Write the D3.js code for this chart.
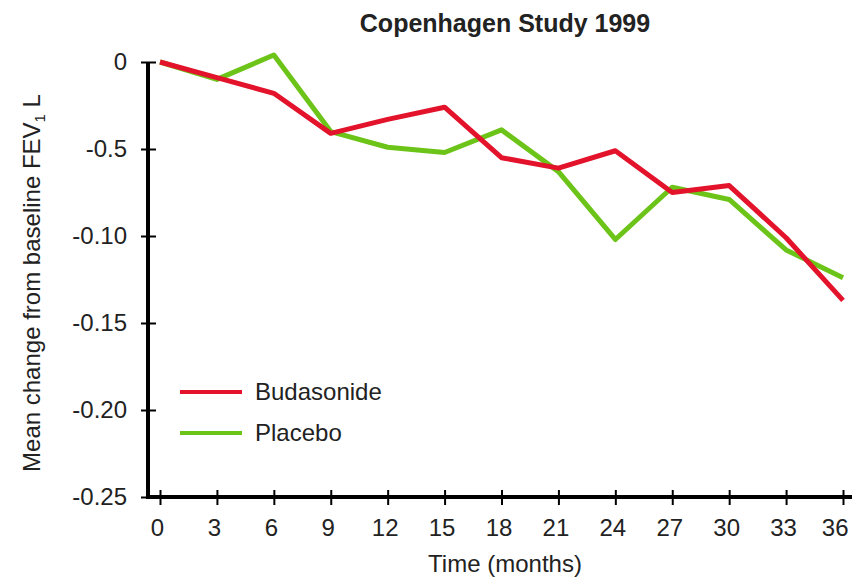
<!DOCTYPE html>
<html>
<head>
<meta charset="utf-8">
<script src="https://cdn.jsdelivr.net/npm/d3@7"></script>
<style>
  body { margin: 0; background: #fff; }
  text { font-family: "Liberation Sans", Arial, sans-serif; fill: #222; }
</style>
</head>
<body>
<div class="chart"></div>
<script>
// months on the x axis
var months = [0, 3, 6, 9, 12, 15, 18, 21, 24, 27, 30, 33, 36];

// mean change from baseline FEV1 (L)
var budasonide = [0, -0.009, -0.018, -0.041, -0.033, -0.026, -0.055, -0.061, -0.051, -0.075, -0.071, -0.101, -0.137];
var placebo    = [0, -0.010, 0.004, -0.040, -0.049, -0.052, -0.039, -0.063, -0.102, -0.072, -0.079, -0.108, -0.124];

// y ticks and the labels as printed on the original
var yTicks = [0, -0.05, -0.10, -0.15, -0.20, -0.25];
var yTickLabels = ["0", "-0.5", "-0.10", "-0.15", "-0.20", "-0.25"];

var seriesNames = ["Budasonide", "Placebo"];
var seriesColors = ["#e3132c", "#6cc419"];

var svgWidth = 852;
var svgHeight = 580;

var svg = d3.select(".chart")
  .append("svg")
  .attr("width", svgWidth)
  .attr("height", svgHeight);

// scales
var xScale = d3.scaleLinear()
  .domain([0, 36])
  .range([160, 843]);

var yScale = d3.scaleLinear()
  .domain([-0.25, 0])
  .range([497, 62]);

// title
svg.append("text")
  .attr("x", 505)
  .attr("y", 32)
  .attr("text-anchor", "middle")
  .attr("font-size", "25px")
  .attr("font-weight", "bold")
  .text("Copenhagen Study 1999");

// y axis
var yAxis = d3.axisLeft(yScale)
  .tickValues(yTicks)
  .tickSize(0)
  .tickPadding(21)
  .tickFormat(function(d, i) { return yTickLabels[i]; });

var yG = svg.append("g")
  .attr("transform", "translate(148,0)")
  .call(yAxis);
yG.select(".domain").remove();
yG.selectAll(".tick text")
  .attr("font-size", "24px")
  .attr("font-family", null)
  .attr("fill", "#222");
yG.selectAll(".tick").append("line")
  .attr("x1", -7)
  .attr("x2", 8)
  .attr("stroke", "#000")
  .attr("stroke-width", 2);

// x axis
var xAxis = d3.axisBottom(xScale)
  .tickValues(months)
  .tickSize(0)
  .tickPadding(22)
  .tickFormat(d3.format("d"));

var xG = svg.append("g")
  .attr("transform", "translate(0,497)")
  .call(xAxis);
xG.select(".domain").remove();
xG.selectAll(".tick text")
  .attr("font-size", "24px")
  .attr("font-family", null)
  .attr("fill", "#222")
  .attr("dx", -3);
xG.selectAll(".tick text")
  .filter(function(d) { return d === 36; })
  .attr("text-anchor", "end")
  .attr("dx", 0)
  .attr("x", 5);
xG.selectAll(".tick").append("line")
  .attr("y1", -7)
  .attr("y2", 8)
  .attr("stroke", "#000")
  .attr("stroke-width", 2);

// thick axis lines
svg.append("line")
  .attr("x1", 148).attr("x2", 148)
  .attr("y1", yScale(0)).attr("y2", yScale(-0.25) + 2)
  .attr("stroke", "#000")
  .attr("stroke-width", 4);

svg.append("line")
  .attr("x1", 146).attr("x2", 852)
  .attr("y1", yScale(-0.25)).attr("y2", yScale(-0.25))
  .attr("stroke", "#000")
  .attr("stroke-width", 4);

// axis titles
svg.append("text")
  .attr("x", 505)
  .attr("y", 572)
  .attr("text-anchor", "middle")
  .attr("font-size", "24px")
  .text("Time (months)");

var yTitle = svg.append("text")
  .attr("transform", "translate(40,283) rotate(-90)")
  .attr("text-anchor", "middle")
  .attr("font-size", "24px");
yTitle.append("tspan").text("Mean change from baseline FEV");
yTitle.append("tspan").attr("font-size", "15px").attr("dy", 5).text("1");
yTitle.append("tspan").attr("dy", -5).text(" L");

// lines
var line = d3.line()
  .x(function(d, i) { return xScale(months[i]); })
  .y(function(d) { return yScale(d); });

var allSeries = [placebo, budasonide];
var allColors = [seriesColors[1], seriesColors[0]];

svg.selectAll(".series")
  .data(allSeries)
  .enter()
  .append("path")
  .attr("class", "series")
  .attr("d", line)
  .attr("fill", "none")
  .attr("stroke", function(d, i) { return allColors[i]; })
  .attr("stroke-width", 5)
  .attr("stroke-linejoin", "round");

// legend
var legend = svg.selectAll(".legend")
  .data(seriesNames)
  .enter()
  .append("g")
  .attr("class", "legend")
  .attr("transform", function(d, i) { return "translate(180," + (392 + i * 41) + ")"; });

legend.append("line")
  .attr("x1", 0)
  .attr("x2", 62)
  .attr("stroke", function(d, i) { return seriesColors[i]; })
  .attr("stroke-width", 4);

legend.append("text")
  .attr("x", 75)
  .attr("y", 8)
  .attr("font-size", "24px")
  .text(function(d) { return d; });
</script>
</body>
</html>
